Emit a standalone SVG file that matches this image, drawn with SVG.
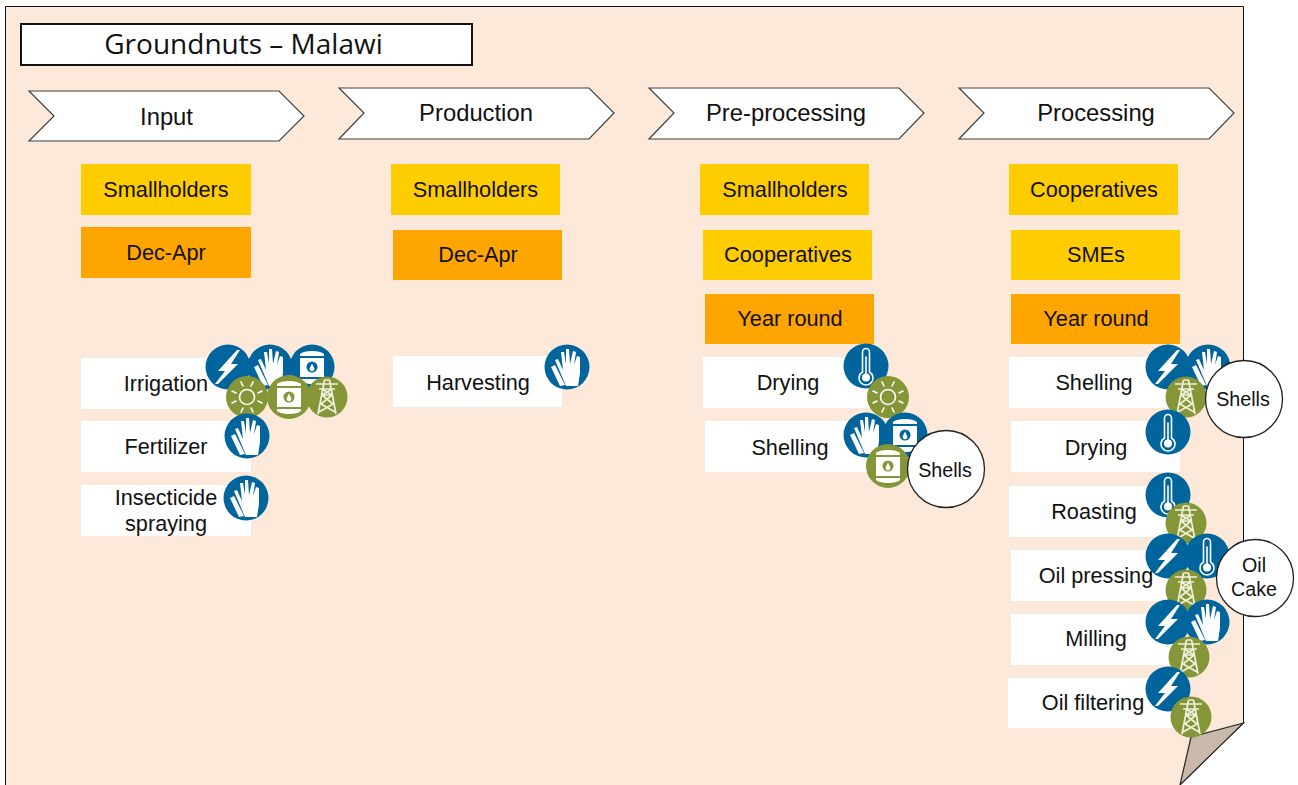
<svg xmlns="http://www.w3.org/2000/svg" width="1298" height="785" viewBox="0 0 1298 785">
<style>
text{font-family:"Liberation Sans",Arial,sans-serif;font-size:21.700px;fill:#111;text-anchor:middle}
.title{font-family:"Open Sans","Noto Sans",sans-serif;font-size:28px}
.st{font-size:23.800px}
.sm{font-size:19.700px}
.chev{fill:#fff;stroke:#404040;stroke-width:1.200}
.y{fill:#ffcc00}.o{fill:#ffa500}.w{fill:#fff}
.bub{fill:#fff;stroke:#222;stroke-width:1.300}
.b{fill:#00659d}.g{fill:#859638}
.ic{fill:#fff;stroke:none}
.ln{fill:none;stroke:#fff;stroke-width:1.600;stroke-linecap:round}
.tw{fill:none;stroke:#f1f0dc;stroke-width:1.700;stroke-linejoin:round}
</style>
<defs>
<g id="bolt"><path class="ic" d="M9-17L-10 4-3 4-13 17-10 17 10-3 3-3 12-17Z"/></g>
<g id="glove"><path class="ic" d="M-12-7L-9-8-4 3-6-15-3-15-1-3-1-18 2-18 3-3 6-16 9-15 7-2 10-11 13-10 13 6 11 19-1 19Z"/><path class="ic" d="M-16 0L-12-2-2 18-7 19Z"/></g>
<g id="barrelg"><path class="ic" d="M-12-13C-8-17 8-17 12-13V-11H-12ZM-12-9H12V10H-12ZM-12 12H12V14C8 18-8 18-12 14Z"/><circle r="5.500" fill="#859638"/><path class="ic" d="M0-3.500L2.200 1A2.400 2.400 0 1 1-2.200 1Z"/></g>
<g id="barrelb"><path class="ic" d="M-12-13C-8-17 8-17 12-13V-11H-12ZM-12-9H12V10H-12ZM-12 12H12V14C8 18-8 18-12 14Z"/><circle r="5.500" fill="#00659d"/><path class="ic" d="M0-3.500L2.200 1A2.400 2.400 0 1 1-2.200 1Z"/></g>
<g id="thermo"><path class="ln" d="M-3.500 6V-14A3.500 3.500 0 0 1 3.500-14V6A7 7 0 1 1-3.500 6Z"/><circle class="ic" cy="11.500" r="4"/><path class="ln" d="M0 9V-9"/></g>
<g id="sun"><circle class="ln" r="7.500"/><path class="ln" d="M-4-11L-6-15M4-11L6-15M-4 11L-6 15M4 11L6 15M-11-4L-15-6M11-4L15-6M-11 4L-15 6M11 4L15 6"/></g>
<g id="tower"><path class="tw" d="M-11-13H11M-8-8H8M-2.500-17L-9 17M2.500-17L9 17M-2.500-17H2.500M-5-2L6 7M5-2L-6 7M-6 7L8 15M6 7L-8 15M-5-2H5M-5-8L5-2M5-8L-5-2"/></g>
<g id="i-bolt"><circle class="b" r="22.500"/><use href="#bolt"/></g>
<g id="i-glove"><circle class="b" r="22.500"/><use href="#glove"/></g>
<g id="i-barrelb"><circle class="b" r="22.500"/><use href="#barrelb"/></g>
<g id="i-thermo"><circle class="b" r="22.500"/><use href="#thermo"/></g>
<g id="i-sun"><circle class="g" r="21"/><use href="#sun"/></g>
<g id="i-barrelg"><circle class="g" r="22"/><use href="#barrelg"/></g>
<g id="i-tower"><circle class="g" r="20.500"/><use href="#tower"/></g>
</defs>

<g id="page"><path d="M5.500 6.500H1243.500V723L1180 785V790H5.500Z" fill="#fde9d9" stroke="#111" stroke-width="1"/><path d="M1243.500 723L1191 737 1180 785Z" fill="#c9b9aa" stroke="#222" stroke-width="1.200"/></g>

<g id="title"><rect x="21" y="24" width="451" height="41" fill="#fff" stroke="#111" stroke-width="2"/><text class="title" x="243.500" y="54">Groundnuts – Malawi</text></g>

<g id="stage-input"><path class="chev" d="M29 91H279L304 116 279 141H29L54 116Z"/><text class="st" x="166.500" y="125">Input</text></g>
<g id="stage-production"><path class="chev" d="M339 88H589L614 113 589 139H339L364 113Z"/><text class="st" x="476" y="121">Production</text></g>
<g id="stage-preprocessing"><path class="chev" d="M649 88H899L924 113 899 139H649L674 113Z"/><text class="st" x="786" y="121">Pre-processing</text></g>
<g id="stage-processing"><path class="chev" d="M959 88H1209L1234 113 1209 139H959L984 113Z"/><text class="st" x="1096" y="121">Processing</text></g>

<g id="input-smallholders"><rect class="y" x="81" y="164" width="170" height="51"/><text x="166" y="197">Smallholders</text></g>
<g id="input-season"><rect class="o" x="81" y="227" width="170" height="51"/><text x="166" y="260">Dec-Apr</text></g>
<g id="production-smallholders"><rect class="y" x="391" y="164" width="169" height="51"/><text x="475.500" y="197">Smallholders</text></g>
<g id="production-season"><rect class="o" x="393" y="230" width="169" height="50"/><text x="478" y="262">Dec-Apr</text></g>
<g id="pre-smallholders"><rect class="y" x="700" y="164" width="169" height="51"/><text x="785" y="197">Smallholders</text></g>
<g id="pre-cooperatives"><rect class="y" x="703" y="230" width="169" height="50"/><text x="788" y="262">Cooperatives</text></g>
<g id="pre-season"><rect class="o" x="705" y="294" width="169" height="50"/><text x="790" y="326">Year round</text></g>
<g id="proc-cooperatives"><rect class="y" x="1009" y="164" width="169" height="51"/><text x="1094" y="197">Cooperatives</text></g>
<g id="proc-smes"><rect class="y" x="1011" y="230" width="169" height="50"/><text x="1096" y="262">SMEs</text></g>
<g id="proc-season"><rect class="o" x="1011" y="294" width="169" height="50"/><text x="1096" y="326">Year round</text></g>

<g id="irrigation"><rect class="w" x="81" y="358" width="170" height="51"/><text x="166" y="391">Irrigation</text>
<use href="#i-bolt" x="228" y="367"/><use href="#i-glove" x="270" y="367"/><use href="#i-barrelb" x="312" y="367"/><use href="#i-sun" x="247" y="397"/><use href="#i-barrelg" x="289" y="397"/><use href="#i-tower" x="327" y="397"/></g>
<g id="fertilizer"><rect class="w" x="81" y="421" width="170" height="51"/><text x="166" y="454">Fertilizer</text><use href="#i-glove" x="247" y="436"/></g>
<g id="insecticide"><rect class="w" x="81" y="485" width="170" height="51"/><text x="166" y="505">Insecticide</text><text x="166" y="531">spraying</text><use href="#i-glove" x="246" y="498"/></g>
<g id="harvesting"><rect class="w" x="393" y="356" width="169" height="51"/><text x="478" y="390">Harvesting</text><use href="#i-glove" x="567" y="367"/></g>
<g id="pre-drying"><rect class="w" x="703" y="357" width="170" height="51"/><text x="788" y="390">Drying</text><use href="#i-thermo" x="866" y="366"/><use href="#i-sun" x="888" y="397"/></g>
<g id="pre-shelling"><rect class="w" x="705" y="421" width="169" height="51"/><text x="790" y="455">Shelling</text><use href="#i-glove" x="866" y="435"/><use href="#i-barrelb" x="905" y="435"/><use href="#i-barrelg" x="888" y="466"/></g>
<g id="pre-shells"><circle class="bub" cx="946" cy="469" r="38.500"/><text class="sm" x="945" y="477">Shells</text></g>

<g id="proc-shelling"><rect class="w" x="1009" y="357" width="170" height="51"/><text x="1094" y="390">Shelling</text><use href="#i-bolt" x="1168" y="367"/><use href="#i-glove" x="1208" y="367"/><use href="#i-tower" x="1186" y="397"/></g>
<g id="proc-shells"><circle class="bub" cx="1244" cy="399" r="38.500"/><text class="sm" x="1243" y="406">Shells</text></g>
<g id="proc-drying"><rect class="w" x="1011" y="421" width="169" height="51"/><text x="1096" y="455">Drying</text><use href="#i-thermo" x="1168" y="432"/></g>
<g id="roasting"><rect class="w" x="1009" y="486" width="170" height="51"/><text x="1094" y="519">Roasting</text><use href="#i-thermo" x="1168" y="495"/><use href="#i-tower" x="1186" y="523"/></g>
<g id="oil-pressing"><rect class="w" x="1011" y="550" width="170" height="51"/><text x="1096" y="583">Oil pressing</text><use href="#i-bolt" x="1168" y="556"/><use href="#i-thermo" x="1207" y="556"/><use href="#i-tower" x="1186" y="590"/></g>
<g id="oil-cake"><circle class="bub" cx="1255" cy="578" r="38.500"/><text class="sm" x="1254" y="572">Oil</text><text class="sm" x="1254" y="596">Cake</text></g>
<g id="milling"><rect class="w" x="1011" y="614" width="170" height="51"/><text x="1096" y="646">Milling</text><use href="#i-bolt" x="1168" y="622"/><use href="#i-glove" x="1207" y="622"/><use href="#i-tower" x="1189" y="657"/></g>
<g id="oil-filtering"><rect class="w" x="1008" y="678" width="170" height="50"/><text x="1093" y="710">Oil filtering</text><use href="#i-bolt" x="1168" y="689"/><use href="#i-tower" x="1191" y="717"/></g>
</svg>
